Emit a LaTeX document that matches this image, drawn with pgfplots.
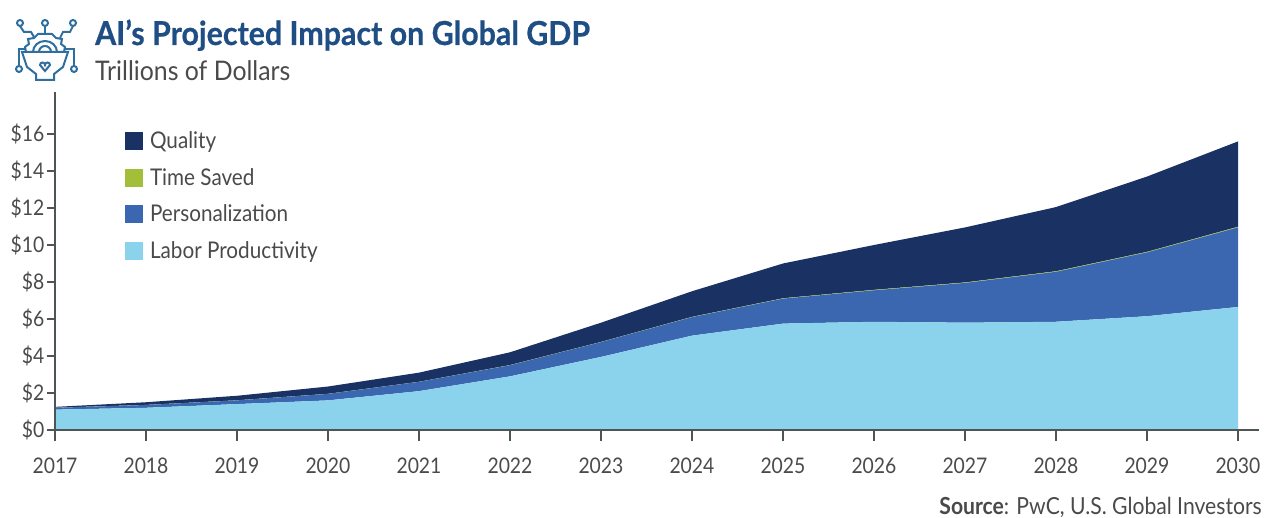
\documentclass[border=0pt]{standalone}
\usepackage{pgfplots}
\pgfplotsset{compat=1.18}
\usepackage{fontspec}
\setmainfont{Lato}[FakeStretch=0.9]
\newfontfamily\headfont{Lato}[FakeStretch=0.92,BoldFeatures={FakeBold=0.6}]
\newfontfamily\subfont{Lato}[FakeStretch=0.92]
\definecolor{qual}{HTML}{1A3263}
\definecolor{tsaved}{HTML}{A3BF3A}
\definecolor{pers}{HTML}{3B67B0}
\definecolor{labor}{HTML}{8BD3EC}
\definecolor{axisgr}{HTML}{4E5557}
\definecolor{txtgr}{HTML}{4A4A4A}
\definecolor{headblue}{HTML}{1F4E85}
\definecolor{iconblue}{HTML}{2F6F9F}
\pgfplotstableread{
year labor personal saved quality
2017 1.10 0.10 0.005 0.045
2018 1.20 0.15 0.005 0.145
2019 1.40 0.20 0.005 0.245
2020 1.60 0.35 0.005 0.395
2021 2.10 0.50 0.005 0.495
2022 2.90 0.60 0.010 0.690
2023 3.95 0.80 0.010 1.040
2024 5.10 1.00 0.015 1.385
2025 5.75 1.35 0.020 1.880
2026 5.85 1.70 0.025 2.425
2027 5.80 2.15 0.025 2.975
2028 5.85 2.70 0.030 3.470
2029 6.15 3.45 0.030 4.070
2030 6.65 4.30 0.035 4.615
}\gdpdata
\begin{document}
\begin{tikzpicture}[x=1pt,y=1pt]
\path[use as bounding box] (0,0) rectangle (1264,518);
\begin{axis}[
  at={(55pt,88pt)}, anchor=south west,
  scale only axis, width=1204pt, height=338pt,
  xmin=2017, xmax=2030.23, ymin=0, ymax=18.27,
  stack plots=y, area style,
  axis lines=left, axis line style={axisgr,line width=2.4pt,-},
  axis on top,
  xtick={2017,...,2030}, ytick={0,2,...,16},
  tick align=outside, tick style={axisgr,line width=2pt},
  xtick pos=lower, ytick pos=left,
  x tick style={/pgfplots/major tick length=11pt},
  y tick style={/pgfplots/major tick length=8pt},
  xticklabel style={/pgf/number format/1000 sep={},/pgf/number format/assume math mode=true,yshift=-20pt},
  yticklabel style={/pgf/number format/assume math mode=true,xshift=-3pt},
  yticklabel={\$\pgfmathprintnumber{\tick}},
  tick label style={font=\fontsize{21.5}{24}\selectfont,text=txtgr},
  legend cell align=left,
  reverse legend,
  legend style={draw=none,fill=none,at={(0.0555,0.895)},anchor=north west,
    font=\fontsize{23}{26}\selectfont,text=txtgr,row sep=14.2pt},
  legend image code/.code={\fill[#1] (0pt,-9pt) rectangle (18pt,9pt);\path (23pt,0pt);},
]
\addplot[draw=none,fill=labor] table[x=year,y=labor]{\gdpdata} \closedcycle;
\addlegendentry{Labor Productivity}
\addplot[draw=none,fill=pers] table[x=year,y=personal]{\gdpdata} \closedcycle;
\addlegendentry{Personalization}
\addplot[draw=none,fill=tsaved] table[x=year,y=saved]{\gdpdata} \closedcycle;
\addlegendentry{Time Saved}
\addplot[draw=none,fill=qual] table[x=year,y=quality]{\gdpdata} \closedcycle;
\addlegendentry{Quality}
\end{axis}
% heading block
\node[anchor=base west,font=\headfont\bfseries\fontsize{33}{36}\selectfont,text=headblue,inner sep=0pt] at (95,473) {AI’s Projected Impact on Global GDP};
\node[anchor=base west,font=\subfont\fontsize{27}{30}\selectfont,text=txtgr,inner sep=0pt] at (95,437) {Trillions of Dollars};
\node[anchor=base east,font=\fontsize{23.5}{26}\selectfont,text=txtgr,inner sep=0pt] at (1262,3) {\textbf{Source}: PwC, U.S. Global Investors};
% circuit-brain emblem
\begin{scope}[iconblue,line width=2pt,fill=none]
  \draw (20,495) circle (3);
  \draw (45,495) circle (3);
  \draw (73,495) circle (3);
  \draw (19,449) circle (3);
  \draw (74,449) circle (3);
  \draw (20,492) -- (24,486) -- (31,486) -- (34,481);
  \draw (45,492) -- (45,483);
  \draw (73,492) -- (70,486) -- (63,486) -- (60,480);
  \draw (26,466) -- (25,471) -- (29,474) -- (28,479) -- (34,480) -- (38,484) -- (52,484) -- (56,480) -- (62,479) -- (61,474) -- (65,471) -- (64,466);
  \draw (33,466) arc (180:0:12 and 11);
  \draw (39,466) arc (180:0:6 and 6);
  \draw (22,466) -- (68,466) -- (63,451) -- (54,444) -- (54,438) -- (36,438) -- (36,444) -- (27,451) -- cycle;
  \draw (45,447) -- (40,453) arc (180:0:2.5) arc (180:0:2.5) -- cycle;
  \draw (19,452) -- (19,469) -- (26,469);
  \draw (74,452) -- (74,469) -- (65,469);
\end{scope}
\end{tikzpicture}
\end{document}
